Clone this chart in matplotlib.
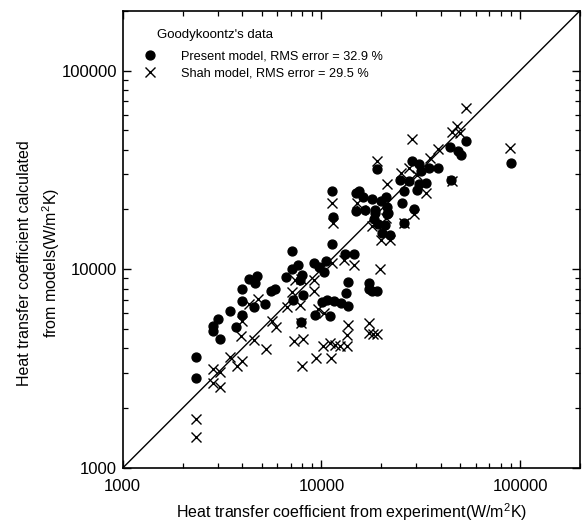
import matplotlib
matplotlib.use("Agg")
import matplotlib.pyplot as plt
from matplotlib.ticker import LogLocator, FixedLocator, FuncFormatter, NullFormatter
from matplotlib.lines import Line2D

plt.rcParams['font.family'] = ['Liberation Sans', 'DejaVu Sans']
plt.rcParams['mathtext.fontset'] = 'custom'
plt.rcParams['mathtext.rm'] = 'Liberation Sans'
plt.rcParams['mathtext.default'] = 'regular'

# Present model: (experiment, calculated)
present_exp = [2330, 2350, 2860, 2860, 3030, 3100, 3480, 3730, 4000, 4000, 4000,
               4330, 4640, 4750, 4590, 5210, 5580, 5840, 6630, 7190, 7100, 7610,
               7790, 7970, 8060, 7880, 7100, 9150, 9690, 10270, 10510, 9260, 10040,
               10630, 11000, 11520, 12490, 13540, 13230, 13540, 13080, 14500, 17440,
               17440, 18050, 19120, 11260, 11390, 11260, 14840, 15540, 16270, 14840,
               16650, 19120, 28610, 31010, 31730, 34790, 38590, 24920, 27640, 31010,
               33610, 30300, 26100, 25500, 29270, 26100, 44830, 44310, 48590, 50300,
               53290, 89430, 18050, 18690, 20020, 21210, 21460, 21460, 18480, 19340,
               20970, 20260, 22210, 18690, 21710]
present_calc = [3610, 2830, 5170, 4880, 5610, 4450, 6150, 5110, 6900, 7940, 5870,
                8910, 8500, 9220, 6440, 6670, 7750, 7940, 9120, 6980, 10000, 10470,
                8800, 9330, 7400, 5420, 12320, 10720, 10230, 9660, 10970, 5870, 6820,
                6980, 5800, 6900, 6750, 6520, 7580, 8600, 11900, 11900, 8500,
                7940, 7750, 7750, 24660, 18250, 13350, 24100, 24660, 23000, 19560,
                19790, 31810, 34890, 33700, 31080, 32180, 32180, 28010, 27690, 26740,
                27050, 24950, 24660, 21470, 20020, 17030, 28010, 41020, 39170, 37410,
                43970, 34100, 22480, 19790, 21970, 23000, 20490, 18900, 17840, 16840,
                16640, 15170, 14820, 19110, 19110]

# Shah model: (experiment, calculated)
shah_exp = [2330, 2350, 2860, 3070, 2860, 3100, 3480, 3770, 4000, 3950, 4000,
            4330, 4800, 4590, 5270, 5640, 5910, 6710, 7100, 7360, 7880, 7790,
            7880, 8060, 7270, 7970, 9150, 9150, 9580, 10270, 9370, 11130, 11260,
            12930, 14500, 13540, 13380, 10150, 11000, 11650, 12350, 13380, 17440,
            17440, 18260, 19120, 19790, 11260, 11390, 15020, 15900, 19120, 28610,
            53290, 48040, 45350, 49720, 38590, 35190, 88410, 27640, 25210, 30300,
            33610, 21460, 18050, 21210, 29270, 20020, 22210, 26100, 45350]
shah_calc = [1760, 1430, 3150, 3040, 2670, 2550, 3610, 3260, 3450, 4610, 5480,
             6670, 7070, 4400, 3960, 5480, 5110, 6440, 7670, 8800, 8910, 6590,
             5350, 4450, 4350, 3260, 8800, 7750, 6300, 6010, 3570, 3570, 10720,
             11100, 10470, 5230, 4660, 4100, 4250, 4150, 4100, 4100, 5350,
             4770, 4710, 4710, 10000, 21470, 17030, 21470, 19790, 34890, 45000,
             64420, 52310, 48800, 48240, 40090, 36130, 40550, 32180, 30370, 29680,
             24100, 26740, 16450, 18050, 18900, 13990, 13990, 17030, 27690]

diag = [1000, 200000]
xlim = (1000, 200000)
ylim = (1000, 200000)
major_ticks = [1000, 10000, 100000]

legend_title = "Goodykoontz's data"
label_present = "Present model, RMS error = 32.9 %"
label_shah = "Shah model, RMS error = 29.5 %"

fig = plt.figure(figsize=(5.82, 5.23), dpi=100)
ax = fig.add_axes([122.7/582, 1-468/523, (580-122.7)/582, (468-10.7)/523])

ax.plot(diag, diag, color='black', lw=1.0, zorder=1)
ax.plot(present_exp, present_calc, linestyle='none', marker='o', markersize=6.4,
        color='black', zorder=3)
ax.plot(shah_exp, shah_calc, linestyle='none', marker='x', markersize=6.5,
        markeredgewidth=1.0, color='black', zorder=4)

ax.set_xscale('log')
ax.set_yscale('log')
ax.set_xlim(*xlim)
ax.set_ylim(*ylim)

fmt = FuncFormatter(lambda v, p: f"{int(round(v))}")
for axis in (ax.xaxis, ax.yaxis):
    axis.set_major_locator(FixedLocator(major_ticks))
    axis.set_major_formatter(fmt)
    axis.set_minor_locator(LogLocator(base=10, subs=range(2, 10)))
    axis.set_minor_formatter(NullFormatter())

ax.tick_params(which='both', direction='in', top=True, right=True, labelsize=12,
               color='black', labelcolor='black')
ax.tick_params(which='major', length=6, width=1.0)
ax.tick_params(which='minor', length=3.5, width=0.9)
ax.tick_params(axis='x', pad=8)
ax.tick_params(axis='y', pad=4)
for s in ax.spines.values():
    s.set_linewidth(1.2)

ax.set_xlabel("Heat transfer coefficient from experiment(W/m$^{2}$K)", fontsize=11.5,
              labelpad=5)
fig.text(39.5/582, 1-263/523, "Heat transfer coefficient calculated\nfrom models(W/m$^{2}$K)",
         rotation=90, ha='center', va='center', multialignment='center',
         fontsize=11.5, linespacing=1.5)

ax.text((157-122.7)/457.3, (468-35)/457.3, legend_title, transform=ax.transAxes,
        ha='left', va='center', fontsize=9.5)

handles = [Line2D([], [], linestyle='none', marker='o', markersize=6.4, color='black'),
           Line2D([], [], linestyle='none', marker='x', markersize=6.5,
                  markeredgewidth=1.0, color='black')]
leg = ax.legend(handles, [label_present, label_shah],
                loc='upper left', bbox_to_anchor=((143.6-122.7)/457.3, (468-50)/457.3),
                frameon=False, fontsize=9.2, handlelength=1.0,
                handletextpad=1.9, labelspacing=0.42, borderaxespad=0.0,
                borderpad=0.0)

fig.savefig("out.png", dpi=100)
